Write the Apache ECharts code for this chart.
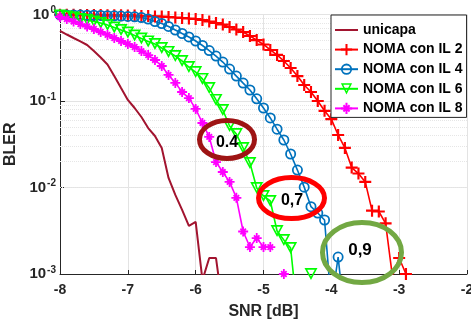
<!DOCTYPE html>
<html>
<head>
<meta charset="utf-8">
<script src="https://cdn.jsdelivr.net/npm/echarts@6/dist/echarts.min.js"></script>
<style>
  html, body { margin: 0; padding: 0; background: #fff; }
  #chart { width: 471px; height: 320px; }
</style>
</head>
<body>
<div id="chart"></div>
<script>
// SNR grid (dB), 0.1 dB steps
var snr = [-8.0, -7.9, -7.8, -7.7, -7.6, -7.5, -7.4, -7.3, -7.2, -7.1,
           -7.0, -6.9, -6.8, -6.7, -6.6, -6.5, -6.4, -6.3, -6.2, -6.1,
           -6.0, -5.9, -5.8, -5.7, -5.6, -5.5, -5.4, -5.3, -5.2, -5.1,
           -5.0, -4.9, -4.8, -4.7, -4.6, -4.5, -4.4, -4.3, -4.2, -4.1,
           -4.0, -3.9, -3.8, -3.7, -3.6, -3.5, -3.4, -3.3, -3.2, -3.1,
           -3.0, -2.9];

// BLER per curve (null = no point)
var unicapa = [0.645, 0.587, 0.535, 0.488, 0.444, 0.378, 0.318, 0.264, 0.195, 0.141,
               0.103, 0.083, 0.0653, 0.0487, 0.0394, 0.0286, 0.0129, 0.0082, 0.0055, 0.0036,
               0.0040, 0.00085, 0.00153, 0.00153, 0.0004];
var noma2 = [0.995, 0.995, 0.993, 0.99, 0.99, 0.988, 0.985, 0.983, 0.98, 0.978,
             0.975, 0.974, 0.961, 0.961, 0.948, 0.948, 0.936, 0.923, 0.911, 0.899,
             0.887, 0.864, 0.83, 0.798, 0.766, 0.717, 0.671, 0.628, 0.564, 0.506,
             0.45, 0.389, 0.341, 0.29, 0.241, 0.194, 0.153, 0.127, 0.1, 0.077,
             0.0617, 0.0405, 0.0287, 0.017, 0.0145, 0.0116, 0.0054, 0.00528, 0.00385, 0.00095,
             0.00153, 0.001];
var noma4 = [0.99, 0.99, 0.988, 0.985, 0.983, 0.98, 0.975, 0.97, 0.965, 0.958,
             0.95, 0.94, 0.923, 0.887, 0.83, 0.787, 0.727, 0.662, 0.603, 0.55,
             0.494, 0.438, 0.383, 0.331, 0.282, 0.234, 0.194, 0.161, 0.134, 0.106,
             0.083, 0.0637, 0.0472, 0.0354, 0.0244, 0.0159, 0.0101, 0.006, 0.00507, 0.00421,
             0.00044, 0.00157, 0.0003];
var noma6 = [0.974, 0.948, 0.923, 0.887, 0.864, 0.83, 0.798, 0.756, 0.708, 0.662,
             0.619, 0.572, 0.528, 0.488, 0.456, 0.41, 0.369, 0.331, 0.29, 0.247,
             0.216, 0.18, 0.141, 0.103, 0.0787, 0.0514, 0.0415, 0.0286, 0.0192, 0.00986,
             0.00798, 0.00698, 0.00314, 0.00247, 0.002, 0.00035, null, 0.001];
var noma8 = [0.935, 0.887, 0.83, 0.776, 0.727, 0.68, 0.628, 0.58, 0.535, 0.494,
             0.456, 0.421, 0.378, 0.34, 0.298, 0.254, 0.2, 0.162, 0.127, 0.108,
             0.081, 0.0557, 0.0384, 0.0197, 0.0151, 0.0116, 0.0076, 0.0031, 0.00205, 0.0026,
             0.00205, 0.00205, null, 0.001];

var names = ['unicapa', 'NOMA con IL 2', 'NOMA con IL 4', 'NOMA con IL 6', 'NOMA con IL 8'];
var xTicks = [-8, -7, -6, -5, -4, -3, -2];
// minor log grid lines
var minorGrid = [0.002, 0.003, 0.004, 0.005, 0.006, 0.007, 0.008, 0.009,
                 0.02, 0.03, 0.04, 0.05, 0.06, 0.07, 0.08, 0.09,
                 0.2, 0.3, 0.4, 0.5, 0.6, 0.7, 0.8, 0.9];

// annotations (data coords)
var noteX = [-5.538, -4.587, -3.548];
var noteY = [0.0359, 0.00756, 0.00177];
var noteText = ['0.4', '0,7', '0,9'];

function pairs(arr) {
    return arr.map(function (v, i) { return [snr[i], v === null ? '-' : v]; });
}

var font = '"Liberation Sans", Arial, sans-serif';
var plus = 'path://M4.1,0H5.9V4.1H10V5.9H5.9V10H4.1V5.9H0V4.1H4.1Z';
var ring = 'path://M5,0A5,5 0 1,1 5,10A5,5 0 1,1 5,0ZM5,1.6A3.4,3.4 0 1,0 5,8.4A3.4,3.4 0 1,0 5,1.6Z';
var triDown = 'path://M0,0L10,0L5,9ZM2.1,1.25L5,6.45L7.9,1.25Z';
var star = 'path://M4.1,0H5.9V4.1H10V5.9H5.9V10H4.1V5.9H0V4.1H4.1Z' +
           'M1.6,2.87L2.87,1.6L8.4,7.13L7.13,8.4Z' +
           'M1.6,7.13L7.13,1.6L8.4,2.87L2.87,8.4Z';

var chart = echarts.init(document.getElementById('chart'));
chart.setOption({
    animation: false,
    backgroundColor: '#fff',
    grid: { left: 60, right: 4, top: 14.5, bottom: 46, outerBoundsMode: 'none', containLabel: false },
    legend: {
        data: [
            { name: names[0], itemStyle: { opacity: 0 } },
            names[1], names[2], names[3], names[4]
        ],
        orient: 'vertical',
        left: 331,
        top: 15,
        padding: [8, 4, 2, 3],
        itemGap: 5.6,
        itemWidth: 23,
        itemHeight: 14,
        backgroundColor: '#fff',
        borderColor: '#262626',
        borderWidth: 1,
        borderRadius: 0,
        textStyle: { fontFamily: font, fontWeight: 'bold', fontSize: 14, color: '#000' }
    },
    xAxis: {
        type: 'value',
        min: -8, max: -2, interval: 1,
        name: 'SNR [dB]',
        nameLocation: 'middle',
        nameGap: 30,
        nameTextStyle: { fontFamily: font, fontWeight: 'bold', fontSize: 16, color: '#262626' },
        axisLine: { lineStyle: { color: '#262626', width: 1 } },
        axisTick: { inside: true, length: 4, lineStyle: { color: '#262626' } },
        axisLabel: {
            fontFamily: font, fontWeight: 'bold', fontSize: 14, color: '#262626', margin: 9,
            formatter: function (v) { return xTicks.indexOf(v) >= 0 ? String(v) : ''; }
        },
        splitLine: { show: true, lineStyle: { color: '#e3e3e3', width: 1 } }
    },
    yAxis: {
        type: 'log',
        logBase: 10,
        min: 0.001, max: 1,
        name: 'BLER',
        nameLocation: 'middle',
        nameGap: 31,
        nameRotate: 90,
        nameTextStyle: { fontFamily: font, fontWeight: 'bold', fontSize: 16, color: '#262626' },
        axisLine: { show: true, lineStyle: { color: '#262626', width: 1 } },
        axisTick: { inside: true, length: 5, lineStyle: { color: '#262626' } },
        axisLabel: {
            margin: 4,
            formatter: function (v) {
                var e = Math.round(Math.log10(v));
                return '{b|10}{s|' + e + '}';
            },
            rich: {
                b: { fontFamily: font, fontWeight: 'bold', fontSize: 15, color: '#262626', lineHeight: 18 },
                s: { fontFamily: font, fontWeight: 'bold', fontSize: 10, color: '#262626',
                     verticalAlign: 'top', lineHeight: 11, padding: [0, 0, 0, 1] }
            }
        },
        splitLine: { show: true, lineStyle: { color: '#e3e3e3', width: 1 } }
    },
    series: [
        {
            name: 'minor', type: 'line', data: [], z: 1, silent: true,
            markLine: {
                silent: true, symbol: 'none', animation: false, z: 1,
                label: { show: false },
                lineStyle: { color: '#e6e6e6', type: 'dotted', width: 1 },
                data: minorGrid.map(function (v) { return { yAxis: v }; })
            }
        },
        {
            name: names[0], type: 'line', data: pairs(unicapa), showSymbol: false,
            connectNulls: false, clip: true,
            lineStyle: { color: '#a2142f', width: 2 }, itemStyle: { color: '#a2142f' }
        },
        {
            name: names[1], type: 'line', data: pairs(noma2), symbol: plus, symbolSize: 12,
            connectNulls: false, clip: true,
            lineStyle: { color: '#ff0000', width: 1.6 }, itemStyle: { color: '#ff0000' }
        },
        {
            name: names[2], type: 'line', data: pairs(noma4), symbol: ring, symbolSize: 11,
            connectNulls: false, clip: true,
            lineStyle: { color: '#0072bd', width: 1.6 }, itemStyle: { color: '#0072bd' }
        },
        {
            name: names[3], type: 'line', data: pairs(noma6), symbol: triDown, symbolSize: [13, 12],
            connectNulls: false, clip: true,
            lineStyle: { color: '#00ff00', width: 1.6 }, itemStyle: { color: '#00ff00' }
        },
        {
            name: names[4], type: 'line', data: pairs(noma8), symbol: star, symbolSize: 10,
            connectNulls: false, clip: true,
            lineStyle: { color: '#ff00ff', width: 1.6 }, itemStyle: { color: '#ff00ff' }
        }
    ]
});

// ellipse annotations placed from data coords
var ringStyle = [
    { rx: 27.5, ry: 19, color: '#9e1414', dx: 0, dy: 3.5, size: 16 },
    { rx: 33, ry: 20.5, color: '#ff0000', dx: 0.5, dy: 3, size: 16 },
    { rx: 39.5, ry: 30, color: '#72a843', dx: -2, dy: -2.5, size: 17 }
];
var graphics = [];
noteX.forEach(function (x, i) {
    var p = chart.convertToPixel({ gridIndex: 0 }, [x, noteY[i]]);
    var st = ringStyle[i];
    graphics.push({
        type: 'ellipse', z: 100,
        shape: { cx: p[0], cy: p[1], rx: st.rx, ry: st.ry },
        style: { fill: 'none', stroke: st.color, lineWidth: 5 }
    });
    graphics.push({
        type: 'text', z: 101,
        x: p[0] + st.dx, y: p[1] + st.dy,
        style: {
            text: noteText[i], fill: '#000', align: 'center', verticalAlign: 'middle',
            font: 'bold ' + st.size + 'px ' + font
        }
    });
});
chart.setOption({ graphic: graphics });
</script>
</body>
</html>
